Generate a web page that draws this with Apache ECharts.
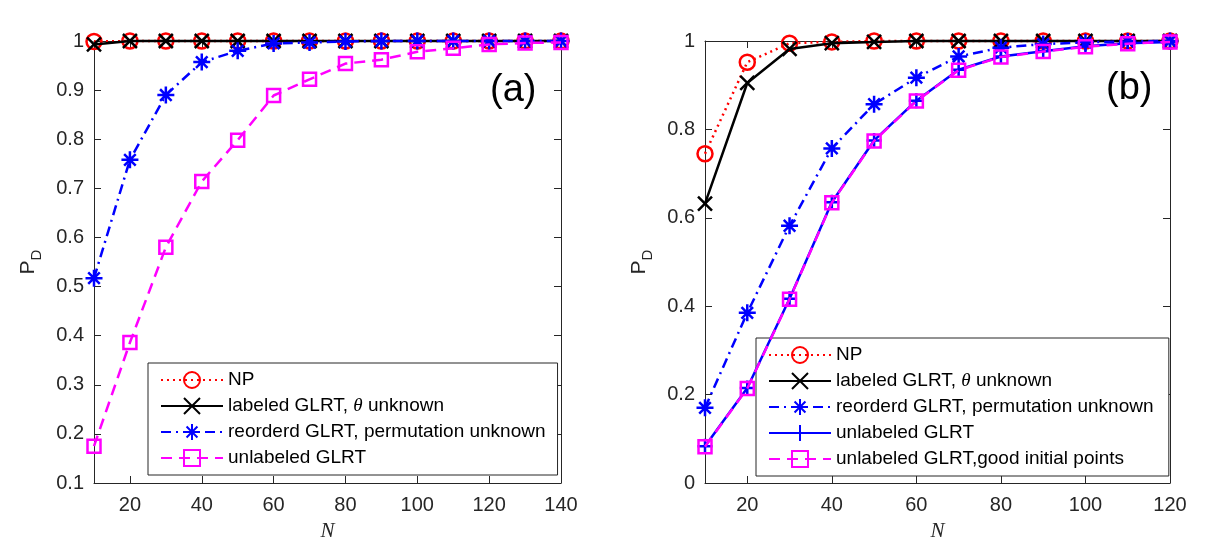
<!DOCTYPE html>
<html>
	<head>
		<meta charset="utf-8" />
		<title>PD vs N</title>
		<script src="https://cdn.jsdelivr.net/npm/echarts@6/dist/echarts.min.js"></script>
		<style>
			html, body { margin: 0; padding: 0; background: #fff; }
			#chart { width: 1216px; height: 547px; }
		</style>
	</head>
	<body>
		<div id="chart"></div>
	</body>

	<script type="text/javascript">

	// (a) data
	var nA = [10, 20, 30, 40, 50, 60, 70, 80, 90, 100, 110, 120, 130, 140];
	var npA = [0.999, 1, 1, 1, 1, 1, 1, 1, 1, 1, 1, 1, 1, 1];
	var labeledA = [0.993, 1, 1, 1, 1, 1, 1, 1, 1, 1, 1, 1, 1, 1];
	var reorderA = [0.517, 0.758, 0.89, 0.957, 0.98, 0.995, 0.997, 0.999, 1, 1, 1, 1, 1, 1];
	var unlabeledA = [0.175, 0.386, 0.58, 0.714, 0.798, 0.889, 0.922, 0.954, 0.962, 0.978, 0.985, 0.993, 0.996, 0.997];

	// (b) data
	var nB = [10, 20, 30, 40, 50, 60, 70, 80, 90, 100, 110, 120];
	var npB = [0.745, 0.952, 0.995, 0.998, 1, 1, 1, 1, 1, 1, 1, 1];
	var labeledB = [0.632, 0.905, 0.982, 0.995, 0.998, 1, 1, 1, 1, 1, 1, 1];
	var reorderB = [0.17, 0.385, 0.582, 0.757, 0.857, 0.917, 0.965, 0.985, 0.993, 0.997, 0.999, 1];
	var unlabeledB = [0.083, 0.215, 0.417, 0.635, 0.775, 0.865, 0.935, 0.965, 0.977, 0.988, 0.995, 0.998];
	var goodInitB = [0.082, 0.214, 0.416, 0.634, 0.774, 0.864, 0.934, 0.964, 0.976, 0.987, 0.994, 0.998];

	var ticksA = [20, 40, 60, 80, 100, 120, 140];
	var ticksB = [20, 40, 60, 80, 100, 120];

	var X_PATH = 'path://M0,0L10,10M10,0L0,10';
	var STAR_PATH = 'path://M5,0L5,10M0,5L10,5M1.6,1.6L8.4,8.4M8.4,1.6L1.6,8.4';
	var PLUS_PATH = 'path://M5,0L5,10M0,5L10,5';

	var AX = '#262626';
	var FONT = 'Liberation Sans';

	function zip(xs, ys) {
		var out = [];
		for (var i = 0; i < xs.length; i++) out.push([xs[i], ys[i]]);
		return out;
	}

	function mk(name, xi, yi, xs, ys, color, dash, symbol, size, z) {
		var hollow = (symbol === 'circle' || symbol === 'rect');
		return {
			name: name,
			type: 'line',
			xAxisIndex: xi,
			yAxisIndex: yi,
			data: zip(xs, ys),
			clip: false,
			z: z,
			symbol: symbol,
			symbolSize: size,
			showAllSymbol: true,
			lineStyle: { color: color, width: 2.5, type: dash },
			itemStyle: {
				color: hollow ? 'rgba(0,0,0,0)' : color,
				borderColor: color,
				borderWidth: 2.5
			},
			emphasis: { disabled: true },
			animation: false
		};
	}

	function xAxes(gi, max, ticks, pos) {
		var bottom = pos === 'bottom';
		return {
			type: 'value',
			gridIndex: gi,
			position: pos,
			min: 10,
			max: max,
			name: bottom ? 'N' : '',
			nameLocation: 'middle',
			nameGap: 38,
			nameTextStyle: { fontFamily: 'Liberation Serif', fontStyle: 'italic', fontSize: 21, color: AX },
			axisLine: { show: true, onZero: false, lineStyle: { color: AX, width: 1 } },
			axisTick: { show: true, inside: true, length: 7, customValues: ticks, lineStyle: { color: AX } },
			axisLabel: {
				show: bottom,
				customValues: ticks,
				margin: 12,
				fontFamily: FONT,
				fontSize: 20,
				color: AX
			},
			splitLine: { show: false }
		};
	}

	function yAxes(gi, min, interval, pos) {
		var left = pos === 'left';
		return {
			type: 'value',
			gridIndex: gi,
			position: pos,
			min: min,
			max: 1,
			interval: interval,
			name: left ? '{p|P}{d|D}' : '',
			nameLocation: 'middle',
			nameRotate: 90,
			nameGap: 50,
			nameTextStyle: {
				rich: {
					p: { fontFamily: FONT, fontSize: 21, color: AX, lineHeight: 26, verticalAlign: 'top' },
					d: { fontFamily: FONT, fontSize: 15, color: AX, lineHeight: 14, verticalAlign: 'bottom' }
				}
			},
			axisLine: { show: true, lineStyle: { color: AX, width: 1 } },
			axisTick: { show: true, inside: true, length: 7, lineStyle: { color: AX } },
			axisLabel: {
				show: left,
				margin: 10,
				fontFamily: FONT,
				fontSize: 20,
				color: AX,
				formatter: function (v) { return String(+v.toFixed(2)); }
			},
			splitLine: { show: false }
		};
	}

	var legendText = {
		fontFamily: FONT,
		fontSize: 19,
		color: '#000',
		lineHeight: 20,
		rich: {
			t: { fontFamily: 'Liberation Serif', fontStyle: 'italic', fontSize: 19, color: '#000' }
		}
	};

	function legendFmt(name) {
		return name.replace('θ', '{t|θ}');
	}

	var chart = echarts.init(document.getElementById('chart'), null, { renderer: 'canvas' });

	var option = {
		backgroundColor: '#fff',
		animation: false,
		grid: [
			{ left: 94, right: 655, top: 41, bottom: 64, show: false },
			{ left: 705, right: 46, top: 41, bottom: 64, show: false }
		],
		xAxis: [
			xAxes(0, 140, ticksA, 'bottom'),
			xAxes(0, 140, ticksA, 'top'),
			xAxes(1, 120, ticksB, 'bottom'),
			xAxes(1, 120, ticksB, 'top')
		],
		yAxis: [
			yAxes(0, 0.1, 0.1, 'left'),
			yAxes(0, 0.1, 0.1, 'right'),
			yAxes(1, 0, 0.2, 'left'),
			yAxes(1, 0, 0.2, 'right')
		],
		legend: [
			{
				data: ['NP', 'labeled GLRT, θ unknown', 'reorderd GLRT, permutation unknown', 'unlabeled GLRT'],
				orient: 'vertical',
				left: 148,
				top: 363,
				width: 409,
				padding: [7, 12, 7, 12],
				itemWidth: 62,
				itemHeight: 20,
				itemGap: 6,
				borderColor: AX,
				borderWidth: 1,
				backgroundColor: '#fff',
				selectedMode: false,
				textStyle: legendText,
				formatter: legendFmt
			},
			{
				data: ['NP ', 'labeled GLRT, θ unknown ', 'reorderd GLRT, permutation unknown ', 'unlabeled GLRT ', 'unlabeled GLRT,good initial points'],
				orient: 'vertical',
				left: 756,
				top: 338,
				padding: [7, 10, 7, 12],
				itemWidth: 62,
				itemHeight: 20,
				itemGap: 6,
				borderColor: AX,
				borderWidth: 1,
				backgroundColor: '#fff',
				selectedMode: false,
				textStyle: legendText,
				formatter: legendFmt
			}
		],
		graphic: [
			{ type: 'text', left: 490, top: 72, style: { text: '(a)', fontFamily: FONT, fontSize: 38, fill: '#000' } },
			{ type: 'text', left: 1106, top: 70, style: { text: '(b)', fontFamily: FONT, fontSize: 38, fill: '#000' } }
		],
		series: [
			mk('NP', 0, 0, nA, npA, '#ff0000', [2, 4], 'circle', 15, 2),
			mk('labeled GLRT, θ unknown', 0, 0, nA, labeledA, '#000000', 'solid', X_PATH, 14, 3),
			mk('reorderd GLRT, permutation unknown', 0, 0, nA, reorderA, '#0000ff', [10, 5, 2, 5], STAR_PATH, 17, 4),
			mk('unlabeled GLRT', 0, 0, nA, unlabeledA, '#ff00ff', [11, 7], 'rect', 13, 5),

			mk('NP ', 2, 2, nB, npB, '#ff0000', [2, 4], 'circle', 15, 2),
			mk('labeled GLRT, θ unknown ', 2, 2, nB, labeledB, '#000000', 'solid', X_PATH, 14, 3),
			mk('reorderd GLRT, permutation unknown ', 2, 2, nB, reorderB, '#0000ff', [10, 5, 2, 5], STAR_PATH, 17, 4),
			mk('unlabeled GLRT ', 2, 2, nB, unlabeledB, '#0000ff', 'solid', PLUS_PATH, 15, 5),
			mk('unlabeled GLRT,good initial points', 2, 2, nB, goodInitB, '#ff00ff', [11, 7], 'rect', 13, 6)
		]
	};

	chart.setOption(option);

	</script>
</html>
